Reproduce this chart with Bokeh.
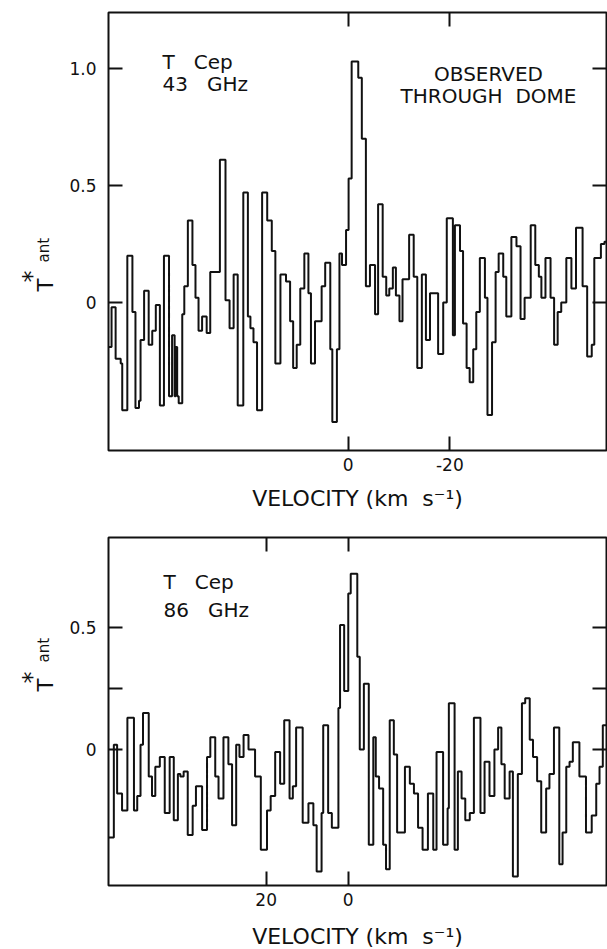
import math
from bokeh.plotting import figure
from bokeh.models import Range1d, FixedTicker, LinearAxis, Label, ColumnDataSource
from bokeh.layouts import column, row
from bokeh.core.properties import value
from bokeh.embed import file_html
from bokeh.resources import INLINE

# ---------------- data ----------------
# 43 GHz spectrum: channel edges (km/s) and antenna temperature per channel
v43_edges = [47.0, 46.5, 45.7, 44.7, 44.4, 43.4, 42.4, 41.8, 41.1, 40.8,
             40.1, 39.2, 38.5, 37.8, 37.0, 36.2, 35.2, 34.6, 34.1, 33.9,
             33.6, 33.3, 32.6, 32.2, 31.5, 30.6, 30.0, 29.4, 28.7, 27.8,
             27.1, 25.2, 24.1, 23.3, 22.5, 21.7, 20.6, 19.7, 19.2, 18.6,
             17.9, 16.9, 15.9, 15.0, 14.3, 13.3, 12.2, 11.4, 10.8, 10.1,
             9.4, 8.6, 7.8, 7.3, 6.5, 5.2, 4.5, 3.5, 3.1, 2.2,
             1.7, 1.2, 0.4, -0.1, -0.7, -2.0, -2.7, -3.5, -4.3, -5.3,
             -5.9, -6.8, -7.5, -8.1, -8.8, -9.4, -10.1, -10.7, -12.0, -12.9,
             -13.6, -14.5, -15.3, -16.1, -17.7, -18.7, -19.4, -20.6, -21.0, -22.0,
             -22.6, -23.3, -23.9, -24.6, -25.2, -25.9, -26.9, -27.4, -28.3, -29.0,
             -29.6, -30.5, -31.1, -32.1, -33.1, -33.9, -34.7, -35.9, -36.8, -37.5,
             -38.0, -38.8, -39.8, -40.5, -41.2, -41.9, -42.9, -43.9, -44.8, -46.1,
             -47.0, -47.9, -48.4, -49.7, -50.4, -50.8]
t43 = [-0.19, -0.02, -0.24, -0.26, -0.46, 0.20, -0.04, -0.45, -0.42, -0.16,
       0.05, -0.18, -0.12, -0.01, -0.44, 0.20, -0.40, -0.14, -0.40, -0.19,
       -0.40, -0.43, -0.05, 0.07, 0.35, 0.16, 0.02, -0.12, -0.06, -0.13,
       0.13, 0.61, 0.01, -0.11, 0.12, -0.44, 0.47, -0.06, -0.11, -0.17,
       -0.46, 0.47, 0.35, 0.22, -0.26, 0.12, 0.09, -0.08, -0.28, -0.18,
       0.06, 0.21, 0.04, -0.26, -0.08, 0.07, 0.17, -0.20, -0.51, -0.20,
       0.21, 0.16, 0.31, 0.53, 1.03, 0.96, 0.70, 0.07, 0.16, -0.05,
       0.42, 0.11, 0.03, 0.06, 0.15, 0.03, -0.08, 0.10, 0.29, 0.11,
       -0.28, 0.12, -0.16, 0.04, -0.22, 0.00, 0.36, -0.14, 0.33, 0.22,
       -0.09, -0.28, -0.34, -0.20, -0.04, 0.19, 0.02, -0.48, -0.17, 0.13,
       0.21, 0.11, -0.06, 0.28, 0.24, -0.07, 0.02, 0.33, 0.16, 0.11,
       0.02, 0.19, 0.02, -0.18, -0.04, 0.00, 0.19, 0.06, 0.32, 0.07,
       -0.23, -0.18, 0.19, 0.25, 0.26]

# 86 GHz spectrum
v86_edges = [58.3, 57.1, 56.3, 55.1, 53.8, 52.2, 51.4, 50.6, 50.0, 48.6,
             47.8, 47.0, 45.9, 44.7, 43.5, 42.5, 41.5, 40.9, 40.1, 39.1,
             37.9, 37.1, 35.6, 34.4, 33.6, 32.4, 31.6, 30.4, 29.2, 28.3,
             27.3, 26.5, 25.5, 24.3, 22.7, 21.3, 19.8, 18.9, 17.8, 16.6,
             15.6, 14.3, 13.5, 12.7, 11.1, 9.7, 8.5, 7.7, 6.5, 6.1,
             4.9, 4.0, 2.4, 2.0, 1.0, 0.0, -0.6, -2.2, -2.8, -3.8,
             -5.0, -6.1, -6.7, -7.5, -8.5, -9.2, -10.1, -11.1, -11.9, -13.8,
             -15.0, -16.0, -17.0, -18.1, -19.4, -20.7, -21.5, -23.1, -24.2, -24.5,
             -25.9, -26.7, -27.6, -28.5, -29.6, -30.6, -32.2, -33.2, -34.4, -35.6,
             -36.5, -37.3, -38.1, -39.3, -40.1, -41.3, -42.3, -43.1, -44.2, -45.0,
             -46.0, -47.0, -48.2, -49.0, -50.1, -51.4, -52.2, -53.1, -53.9, -54.7,
             -56.3, -57.9, -59.3, -60.4, -61.2, -62.0, -62.9]
t86 = [-0.36, 0.02, -0.18, -0.25, 0.13, -0.25, -0.19, 0.02, 0.15, -0.11,
       -0.19, -0.07, -0.03, -0.26, -0.03, -0.29, -0.10, -0.11, -0.09, -0.35,
       -0.23, -0.15, -0.33, -0.03, 0.05, -0.11, -0.20, 0.05, -0.06, -0.31,
       0.02, -0.03, 0.06, 0.00, -0.11, -0.41, -0.25, -0.19, -0.01, -0.14,
       0.12, -0.20, -0.15, 0.09, -0.30, -0.22, -0.31, -0.50, -0.26, 0.10,
       -0.26, -0.32, 0.17, 0.51, 0.24, 0.64, 0.72, 0.38, 0.00, 0.27,
       -0.39, 0.05, -0.11, -0.16, -0.39, -0.49, 0.12, -0.02, -0.34, -0.07,
       -0.14, -0.18, -0.32, -0.41, -0.18, -0.41, -0.01, -0.39, -0.24, 0.19,
       -0.41, -0.09, -0.20, -0.29, -0.26, 0.13, -0.26, -0.05, -0.19, 0.00,
       0.09, -0.06, -0.20, -0.09, -0.52, -0.10, 0.19, 0.21, 0.04, -0.03,
       -0.13, -0.34, -0.16, -0.10, 0.09, -0.47, -0.34, -0.07, -0.05, 0.03,
       -0.11, -0.34, -0.27, -0.14, -0.07, 0.10]

# axis ranges and ticks
x43_range = (47.1, -50.8)
y43_range = (-0.632, 1.239)
x43_ticks = [0, -20]
x43_labels = {0: "0", -20: "-20"}
y43_ticks = [0, 0.5, 1.0]
y43_minor = []
y43_labels = {0: "0", 0.5: "0.5", 1.0: "1.0"}

x86_range = (58.4, -62.9)
y86_range = (-0.557, 0.869)
x86_ticks = [20, 0]
x86_labels = {20: "20", 0: "0"}
y86_ticks = [0, 0.5]
y86_minor = [0.25]
y86_labels = {0: "0", 0.5: "0.5"}

NB = "\u00a0"
x_title = "VELOCITY" + NB + "(km" + NB + NB + "s\u207b\u00b9)"

FONT = "DejaVu Sans"
INK = "#111111"
STRIP_W = 60


def style_axis(ax, ticks, labels, minor=(), show_labels=True):
    ax.ticker = FixedTicker(ticks=ticks, minor_ticks=list(minor))
    ax.major_label_overrides = labels
    ax.major_tick_in = 14
    ax.major_tick_out = 0
    ax.major_tick_line_width = 2
    ax.major_tick_line_color = INK
    ax.minor_tick_in = 14
    ax.minor_tick_out = 0
    ax.minor_tick_line_width = 2
    ax.minor_tick_line_color = INK
    ax.axis_line_color = None
    ax.major_label_text_font = FONT
    if show_labels:
        ax.major_label_text_color = INK
        ax.major_label_text_font_size = "17px"
    else:
        ax.major_label_text_color = None
        ax.major_label_text_font_size = "1px"
        ax.major_label_standoff = 0


def panel(edges, vals, xr, yr, xt, xl, yt, yl, ym, frame_h, top_b, bot_b, title_standoff, texts):
    p = figure(frame_width=498, frame_height=frame_h,
               x_range=Range1d(*xr), y_range=Range1d(*yr),
               output_backend="svg", toolbar_location=None,
               min_border_left=108 - STRIP_W, min_border_right=1,
               min_border_top=top_b, min_border_bottom=bot_b)
    p.grid.visible = False
    p.outline_line_color = INK
    p.outline_line_width = 2
    p.background_fill_color = "white"
    p.border_fill_color = "white"

    style_axis(p.xaxis[0], xt, xl)
    style_axis(p.yaxis[0], yt, yl, ym)
    p.xaxis[0].major_label_standoff = 7
    p.yaxis[0].major_label_standoff = 12
    p.xaxis[0].axis_label = x_title
    p.xaxis[0].axis_label_text_font = FONT
    p.xaxis[0].axis_label_text_font_style = "normal"
    p.xaxis[0].axis_label_text_font_size = "22px"
    p.xaxis[0].axis_label_text_color = INK
    p.xaxis[0].axis_label_standoff = title_standoff

    top = LinearAxis()
    style_axis(top, xt, xl, show_labels=False)
    p.add_layout(top, "above")
    right = LinearAxis()
    style_axis(right, yt, yl, ym, show_labels=False)
    p.add_layout(right, "right")

    ys = list(vals) + [vals[-1]]
    src = ColumnDataSource(dict(v=edges, t=ys))
    p.step(x="v", y="t", source=src, mode="after", line_color=INK, line_width=2)

    for (tx, ty, s, align) in texts:
        p.add_layout(Label(x=tx, y=ty, x_units="screen", y_units="screen", text=s,
                           text_font=FONT, text_font_size="20px", text_color=INK,
                           text_align=align, text_baseline="alphabetic"))
    return p


def label_strip(height, t_pos, ant_pos, star_pos):
    # y measured upward from the strip's bottom edge
    f = figure(frame_width=STRIP_W, frame_height=height,
               x_range=Range1d(0, STRIP_W), y_range=Range1d(0, height),
               output_backend="svg", toolbar_location=None, min_border=0)
    f.axis.visible = False
    f.grid.visible = False
    f.outline_line_color = None
    f.text(x=[t_pos[0]], y=[t_pos[1]], text=["T"], angle=math.pi / 2,
           text_font=value(FONT), text_font_size="21px", text_color=INK,
           text_align="left", text_baseline="alphabetic")
    f.text(x=[ant_pos[0]], y=[ant_pos[1]], text=["ant"], angle=math.pi / 2,
           text_font=value(FONT), text_font_size="15px", text_color=INK,
           text_align="left", text_baseline="alphabetic")
    f.text(x=[star_pos[0]], y=[star_pos[1]], text=["*"], angle=math.pi / 2,
           text_font=value(FONT), text_font_size="24px", text_color=INK,
           text_align="center", text_baseline="middle")
    return f


p1 = panel(v43_edges, t43, x43_range, y43_range, x43_ticks, x43_labels,
           y43_ticks, y43_labels, y43_minor, 438, 12, 70, 12,
           [(54, 389, "T" + NB * 3 + "Cep", "left"), (54, 367, "43" + NB * 3 + "GHz", "left"),
            (380, 377, "OBSERVED", "center"), (380, 355, "THROUGH" + NB * 2 + "DOME", "center")])
lab1 = label_strip(520, (45, 241), (43, 270), (31, 256))

p2 = panel(v86_edges, t86, x86_range, y86_range, x86_ticks, x86_labels,
           y86_ticks, y86_labels, y86_minor, 348, 17, 64, 15,
           [(55, 304, "T" + NB * 3 + "Cep", "left"), (55, 276, "86" + NB * 3 + "GHz", "left")])
lab2 = label_strip(429, (45, 275), (43, 304), (31, 289))

layout = column(row(lab1, p1, spacing=0), row(lab2, p2, spacing=0), spacing=0)
open("out.html", "w").write(file_html(layout, INLINE))
